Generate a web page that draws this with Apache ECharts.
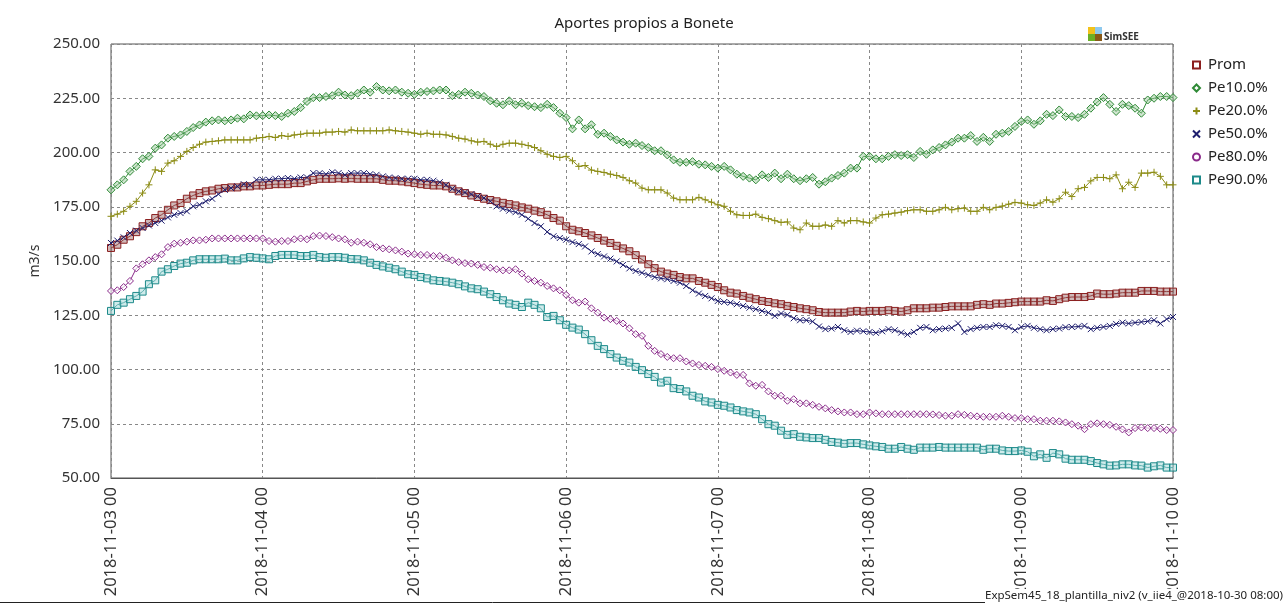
<!DOCTYPE html>
<html>
<head>
<meta charset="utf-8">
<script src="https://cdn.jsdelivr.net/npm/echarts@6/dist/echarts.min.js"></script>
<style>
html,body{margin:0;padding:0;background:#fff;}
#c{width:1288px;height:604px;}
</style>
</head>
<body>
<div id="c"></div>
<script>
// Tick labels for the x axis (one every 24 hourly samples)
const xTickLabels = ['2018-11-03 00','2018-11-04 00','2018-11-05 00','2018-11-06 00','2018-11-07 00','2018-11-08 00','2018-11-09 00','2018-11-10 00'];
const seriesNames = ['Prom','Pe10.0%','Pe20.0%','Pe50.0%','Pe80.0%','Pe90.0%'];

// Hourly values (m3/s), one line per day
const prom = [
156,157.5,159.8,161.4,163.3,166,167.5,169.8,171.3,173.6,175.6,176.7,178.7,180.2,181.3,182.1,182.5,183.3,183.6,183.9,183.9,184.4,184.4,184.8,
184.8,185.1,185.4,185.4,185.4,185.9,185.9,186.7,187.4,187.9,187.9,187.9,188.1,187.9,188.1,187.9,187.9,187.9,187.9,187.4,187,187,186.7,186.3,
185.9,185.4,185.1,184.8,184.8,184.4,183.3,182.1,181.3,180.2,179.5,178.7,178.1,177.5,176.8,176.2,175.6,174.7,174.1,173.2,172.5,171.3,169.8,168.6,
166,164.4,163.7,162.9,161.8,160.6,159.4,158.3,157,155.8,154.5,152.7,150.7,148.5,146.7,145.1,144.2,143.6,142.6,142,142,140.8,140,139,
138,136.5,135.4,135,133.9,133.1,132.4,131.6,131.1,130.5,130.1,129.3,128.8,128.2,127.8,127.3,126.5,126.2,126.2,126.2,126.2,126.7,127,126.7,
127,127,127,127.3,127,126.7,127.3,128.2,128.2,128.2,128.5,128.5,128.8,129.1,129.1,129.1,129.1,129.8,130.1,129.8,130.4,130.4,130.7,131,
131.3,131.3,131.3,131.3,131.9,131.6,132.4,133.1,133.4,133.4,133.4,133.9,135,134.7,134.7,135,135.4,135.4,135.4,136.2,136.2,136.2,135.9,135.9,135.9
];
const pe10 = [
182.8,185.1,187.4,191.3,193.6,197.1,198.2,202,203.5,206.6,207.4,208.1,209.7,211.5,212.7,214,214.6,215,214.6,215,215.8,215.5,217.3,216.9,
217,217.3,217,216.6,218.1,218.9,220.7,223.5,225.3,225.3,225.8,226.2,227.8,226.5,226.2,227.3,228.8,227.8,230.4,228.8,228.4,228.8,227.8,227.3,
226.8,227.8,228.1,228.4,228.8,228.8,226.2,226.8,227.8,227.3,226.5,225.8,223.8,222.7,222,223.8,222,222.7,221.6,221.1,220.7,222.2,220.7,218.1,
216.1,210.9,215,210.9,212.8,208.4,208.9,207.4,205.8,204.8,203.8,204.3,203.2,202.3,200.8,200.8,198.9,196.6,195.5,195.5,195.8,194.6,194.3,193.6,
192.8,193.6,192,190,189,188.2,187.4,189.7,188.5,190.5,187.9,190,187.9,187,187.9,188.5,185.4,186.5,188.2,189.4,190.5,192.8,192.8,198.2,
198.2,197.1,197.1,198.2,199,198.6,199,197.7,200.5,199.2,201.2,202.3,203.5,204.8,206.6,206.6,207.8,205.1,207,205.1,208.4,208.9,209.7,212,
214.3,215,213,214.6,217.6,217,219.6,216.6,216.6,216.1,217.6,220.4,223.2,225.3,222.2,218.9,222.2,221.6,220.4,218.1,224.2,225,225.8,225.8,225.3
];
const pe20 = [
170.6,171.6,172.9,175.2,177.5,181.3,185.1,192,191.3,195.1,196.2,198.2,200.5,202.3,203.8,204.8,205.1,205.4,205.8,205.8,205.8,205.8,205.8,206.6,
206.9,207.4,206.9,207.8,207.4,208.1,208.4,208.9,208.9,208.9,209.4,209.4,209.7,209.4,210.4,210,210,210,210,210,210.4,210,209.7,209.4,
208.9,208.4,208.9,208.4,208.4,208.1,207.4,206.6,206.2,205.4,204.8,205.1,203.8,202.8,203.8,204.3,204.3,203.8,203.2,202.3,200.8,199.2,198.2,197.7,
198.2,196.2,193.6,194,191.9,191.3,190.8,190,189.4,188.5,187,185.9,183.6,182.8,182.8,182.8,181.3,179,178.2,178.2,178.2,179.3,178.2,177.1,
175.9,175.2,172.9,171.3,171,171,171.6,170.1,169.5,168.6,167.8,168,165.2,164.4,167.5,166,166,166.6,166,168.6,167.5,168.6,168.6,168,
167.5,169.8,171.3,171.6,172.1,172.5,173.2,173.6,173.6,172.9,172.9,173.6,174.7,173.6,174.1,174.4,172.9,172.9,174.7,173.6,174.7,175.3,176.2,177,
176.7,175.9,175.6,176.7,178.2,177.1,178.7,181.7,179.7,183.3,183.9,186.9,188.5,188.5,187.9,189.7,183.3,186.3,183.9,190.5,190.5,190.9,189,185.1,185.1
];
const pe50 = [
158.3,159.4,160.9,162.9,164,165.2,166.4,167.5,168.6,170.1,171.3,172.1,172.9,175.2,175.9,177.5,178.7,180.8,182.8,183.6,184.4,185.4,185.1,187.4,
187.4,187.4,187.9,187.9,188.2,187.9,188.5,188.5,190.5,190.5,190,190.9,190.5,189.7,190.5,190.5,190.5,190,189.7,189,188.5,188.2,187.9,187.9,
187.9,187.4,187.4,187,186.3,185.1,183.3,182.1,181.6,180.8,179.8,179,177.5,175.2,174.1,173.2,172.5,171.3,169.5,167.5,166,163.4,161.4,160.6,
159.8,158.7,157.8,156.7,154.4,153.2,152.1,151.1,149.8,148.2,146.6,145.4,144.6,143.6,142.6,142,141.6,140.8,140,138.5,136.5,135,133.9,132.8,
131.6,131.1,130.8,130.1,129.3,128.5,127.8,127,126.2,124.7,125.8,125.2,123.6,122.7,122.7,122.1,119.8,118.6,118.9,119.6,118.1,117.3,117.9,117.6,
117.3,116.9,117.6,118.6,118.1,117,116.1,117.3,119.2,119.6,118.1,118.6,118.9,119.2,121.2,117.3,118.6,119.2,119.6,119.6,120.4,120.1,119.6,118.1,
119.6,120.1,119.2,118.6,118.1,118.6,118.9,119.5,119.6,119.8,120.1,118.6,119.2,119.6,120.1,121,121.6,121.2,121.6,121.9,122.2,122.7,121.2,123.2,124.2
];
const pe80 = [
136.2,136.5,138,140.8,146.6,148.5,150.3,151.8,153.1,156.4,158,158.4,158.9,159.5,159.5,159.8,160.4,160.4,160.4,160.4,160.4,160.4,160.4,160.4,
160.4,159.2,158.9,159.2,159.2,160,160.4,160,161.5,161.7,161.5,161,160.4,160,158.4,158.9,158.4,157.7,156.4,155.8,155.4,154.9,154.3,153.4,
153.1,152.8,152.8,152.3,152.3,151.5,150.3,149.5,149,148.8,148.2,147.2,146.9,146.2,145.7,145.7,146.2,144.2,141.6,140.8,140,138.5,137.4,136.5,
134.4,131.9,130.8,131.3,128.2,126.2,123.9,123.2,122.4,121.2,119,116.3,115.5,110.9,108.6,107.1,105.8,105.2,105.2,103.7,102.8,102.1,101.7,101.2,
100.2,99.4,98.6,97.5,97.5,93.6,92.5,92.9,89.9,87.9,87.9,85.6,86.3,84.4,84.4,83.7,82.8,82.1,81.3,80.7,80.2,80.2,79.4,79.4,
80.2,79.8,79.4,79.4,79.4,79.4,79.4,79.4,79.4,79.4,79.3,79,78.7,78.7,79.4,79.1,78.7,78.4,78.2,78.2,78.2,78.7,78.2,77.6,
77.6,77.1,77.1,76.4,76.4,76.4,76.1,75.6,74.8,74.1,72.5,74.8,75.2,74.8,74.5,73.6,72.4,71,73,73.3,73,73,72.7,72.1,72.1
];
const pe90 = [
127,129.8,130.8,132.4,133.9,135.9,139.3,141.1,145.1,146.2,147.7,148.8,149.2,150.3,150.8,150.8,150.8,150.8,151.1,150.3,150.3,151.2,151.8,151.5,
151.2,150.8,152.3,152.8,152.8,152.8,152.3,152.3,152.8,151.8,151.5,151.8,151.8,151.5,150.9,150.8,150.3,149.2,148.2,147.5,146.9,146.2,145.1,143.9,
143.6,142.6,142,141.1,140.8,140.5,140,139.3,138.3,137.4,137,135.9,134.7,133.4,131.9,130.4,129.8,128.8,130.8,129.8,128.2,124.2,124.7,122.7,
120.6,119.3,118.4,116.3,113.5,110.9,109.4,107.1,105.5,104,103.2,101.2,99.7,97.9,96.6,94,94.8,91.4,91,89.9,87.9,87.1,85.3,84.8,
83.7,83.3,82.5,81.3,80.7,80.2,79.4,77.1,74.8,74.1,71.8,69.9,70.2,69,68.7,68.4,68.4,67.6,66.6,66.3,65.8,66.1,66.1,65.5,
65,64.6,64.3,63.5,63.5,64.3,63.5,63,64,64,64,64.3,64,64,64,64,64,64,63,63.5,63.5,62.7,62.4,62.4,
62.7,62.1,60,60.9,59.3,61.5,60.9,58.9,58.4,58.4,58.4,57.8,56.9,56.3,55.7,55.8,56.3,56.3,55.8,55.7,54.8,55.4,55.8,54.8,54.8
];

const FONT = 'Noto Sans';
const PLUS = 'path://M5,0L5,10M0,5L10,5';
const CROSS = 'path://M0,0L10,10M10,0L0,10';

const styles = [
  {data: prom, line:'#8b1f1f', fill:'rgba(150,100,100,0.45)', symbol:'rect', size:7},
  {data: pe10, line:'#2f8a36', fill:'rgba(150,200,150,0.45)', symbol:'diamond', size:8},
  {data: pe20, line:'#8c8c14', fill:'rgba(0,0,0,0)', symbol:PLUS, size:7},
  {data: pe50, line:'#1e1e6e', fill:'rgba(0,0,0,0)', symbol:CROSS, size:6},
  {data: pe80, line:'#8a2a8a', fill:'rgba(255,255,255,0.6)', symbol:'diamond', size:7},
  {data: pe90, line:'#1d8a8a', fill:'rgba(160,215,215,0.5)', symbol:'rect', size:7}
];

const series = styles.map((s, k) => ({
  name: seriesNames[k],
  type: 'line',
  data: s.data.map((v, i) => [i, v]),
  symbol: s.symbol,
  symbolSize: s.size,
  showAllSymbol: true,
  animation: false,
  lineStyle: {color: s.line, width: 1},
  itemStyle: {color: s.fill, borderColor: s.line, borderWidth: 1},
  emphasis: {disabled: true}
}));

const legendIcons = ['rect','diamond',PLUS,CROSS,'circle','rect'];

const chart = echarts.init(document.getElementById('c'));
chart.setOption({
  backgroundColor: '#fff',
  animation: false,
  title: {
    text: 'Aportes propios a Bonete',
    left: 'center', top: 11,
    textStyle: {fontFamily: FONT, fontSize: 15, fontWeight: 'normal', color: '#222'}
  },
  grid: {left: 111, right: 115, top: 44, bottom: 126, show: true, borderColor: '#555', borderWidth: 1},
  legend: {
    orient: 'vertical', left: 1187, top: 51,
    itemWidth: 7, itemHeight: 7, itemGap: 5,
    textStyle: {fontFamily: FONT, fontSize: 15, color: '#222', lineHeight: 18, padding: [0, 0, 0, 3]},
    data: seriesNames.map((n, k) => ({name: n, icon: legendIcons[k],
      itemStyle: {color: '#fff', borderColor: styles[k].line, borderWidth: 2}}))
  },
  xAxis: {
    type: 'value', min: 0, max: 168, interval: 24,
    axisLine: {show: true, lineStyle: {color: '#555'}},
    axisTick: {show: false},
    axisLabel: {rotate: 90, margin: 9, fontFamily: FONT, fontSize: 16.5, color: '#333',
      formatter: v => xTickLabels[Math.round(v / 24)]},
    splitLine: {show: true, lineStyle: {color: '#888', type: [3, 3], width: 1}}
  },
  yAxis: {
    type: 'value', min: 50, max: 250, interval: 25,
    name: 'm3/s', nameLocation: 'middle', nameRotate: 90, nameGap: 62,
    nameTextStyle: {fontFamily: FONT, fontSize: 14, color: '#333'},
    axisLine: {show: false},
    axisTick: {show: false},
    axisLabel: {margin: 11, fontFamily: FONT, fontSize: 15, color: '#333',
      formatter: v => v.toFixed(2)},
    splitLine: {show: true, lineStyle: {color: '#888', type: [3, 3], width: 1}}
  },
  series: series,
  graphic: [
    {type: 'rect', shape: {x: 1088, y: 27, width: 7, height: 7}, style: {fill: '#f2c21b'}},
    {type: 'rect', shape: {x: 1095, y: 27, width: 7, height: 7}, style: {fill: '#8ec9ee'}},
    {type: 'rect', shape: {x: 1088, y: 34, width: 7, height: 7}, style: {fill: '#6bb025'}},
    {type: 'rect', shape: {x: 1095, y: 34, width: 7, height: 7}, style: {fill: '#8a5a18'}},
    {type: 'text', left: 1104, top: 32, style: {text: 'SimSEE', font: 'bold 10px "Noto Sans"', fill: '#333'}},
    {type: 'line', z: 100, shape: {x1: 0, y1: 602.5, x2: 985, y2: 602.5}, style: {stroke: '#222', lineWidth: 1}},
    {type: 'text', z: 100, left: 985, top: 589, style: {text: 'ExpSem45_18_plantilla_niv2 (v_iie4_@2018-10-30 08:00)', font: '11.5px "Noto Sans"', fill: '#222', backgroundColor: '#fff', padding: [1, 2, 1, 0]}}
  ]
});
</script>
</body>
</html>
